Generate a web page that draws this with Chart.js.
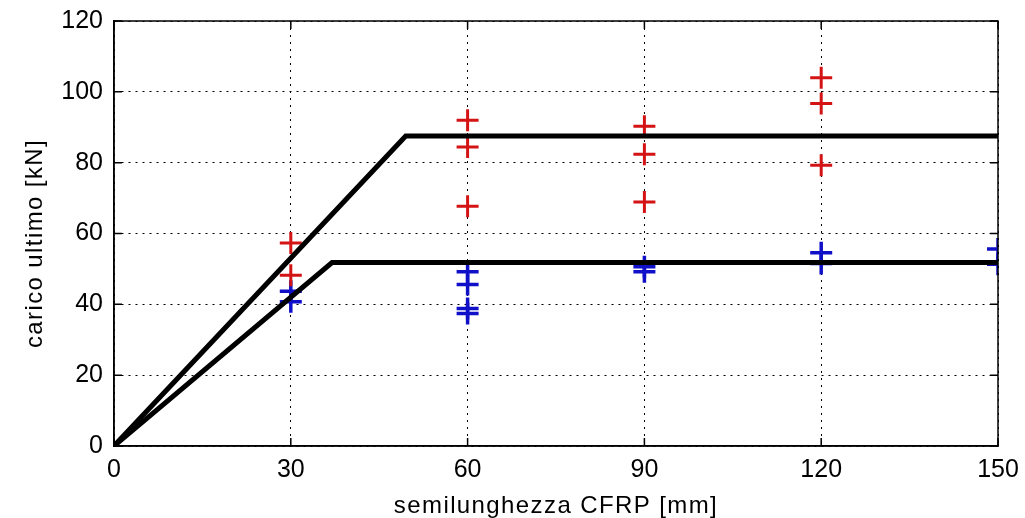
<!DOCTYPE html>
<html lang="it">
<head>
  <meta charset="UTF-8" />
  <title>Carico ultimo - semilunghezza CFRP</title>
  <style>
    html, body { margin: 0; padding: 0; background: #fff; }
    .grafico { width: 1025px; height: 518px; }
  </style>
</head>
<body>
  <div class="grafico"><canvas id="grafico"></canvas></div>

  <script src="https://cdn.jsdelivr.net/npm/chart.js"></script>
  <script>
    const xRosso = [30, 30, 60, 60, 60, 90, 90, 90, 120, 120, 120];
    const yRosso = [57.3, 48.2, 92, 84.4, 67.7, 90.3, 82.4, 68.9, 104, 96.7, 79.3];
    const xBlu = [30, 30, 60, 60, 60, 60, 90, 90, 120, 120, 150, 150];
    const yBlu = [43.7, 40.7, 49.2, 45.6, 38.8, 37.4, 50.6, 49.2, 54.6, 51.5, 55.6, 51.3];

    // modelli teorici (spezzate)
    const xModelloAlto = [0, 49.5, 150];
    const yModelloAlto = [0, 87.5, 87.5];
    const xModelloBasso = [0, 37, 150];
    const yModelloBasso = [0, 51.8, 51.8];

    const tickX = [0, 30, 60, 90, 120, 150];
    const tickY = [0, 20, 40, 60, 80, 100, 120];

    const punti = (xs, ys) => xs.map((x, i) => ({ x, y: ys[i] }));

    Chart.defaults.font.family = "'Liberation Sans', Arial, sans-serif";
    Chart.defaults.color = '#000';

    // riquadro stile MATLAB: bordo chiuso e tacche verso l'interno
    const riquadro = {
      id: 'riquadro',
      beforeDraw(chart) {
        chart.ctx.letterSpacing = '0px';
        Object.values(chart.scales).forEach(s => {
          if (s._titoloOk) return;
          const orig = s.drawTitle.bind(s);
          s.drawTitle = function () {
            const ctx = this.ctx;
            ctx.save();
            ctx.letterSpacing = '1.4px';
            if (this.id === 'y') ctx.translate(0, 10);
            orig();
            ctx.restore();
          };
          s._titoloOk = true;
        });
      },
      afterDraw(chart) {
        const { ctx, chartArea: a, scales: { x, y } } = chart;
        ctx.save();
        ctx.strokeStyle = '#000';
        ctx.lineWidth = 1.5;
        ctx.setLineDash([]);
        ctx.strokeRect(a.left, a.top, a.right - a.left, a.bottom - a.top);
        ctx.beginPath();
        tickX.forEach(v => {
          const px = x.getPixelForValue(v);
          ctx.moveTo(px, a.bottom); ctx.lineTo(px, a.bottom - 8);
          ctx.moveTo(px, a.top); ctx.lineTo(px, a.top + 8);
        });
        tickY.forEach(v => {
          const py = y.getPixelForValue(v);
          ctx.moveTo(a.left, py); ctx.lineTo(a.left + 8, py);
          ctx.moveTo(a.right, py); ctx.lineTo(a.right - 8, py);
        });
        ctx.stroke();
        ctx.restore();
      }
    };

    new Chart(document.getElementById('grafico'), {
      type: 'scatter',
      data: {
        datasets: [
          {
            type: 'line',
            data: punti(xModelloAlto, yModelloAlto),
            borderColor: '#000',
            borderWidth: 5,
            pointRadius: 0,
            fill: false,
            order: 1
          },
          {
            type: 'line',
            data: punti(xModelloBasso, yModelloBasso),
            borderColor: '#000',
            borderWidth: 5,
            pointRadius: 0,
            fill: false,
            order: 1
          },
          {
            data: punti(xRosso, yRosso),
            pointStyle: 'cross',
            pointRadius: 11,
            pointHoverRadius: 11,
            borderColor: '#d41414',
            borderWidth: 3,
            order: 2
          },
          {
            data: punti(xBlu, yBlu),
            pointStyle: 'cross',
            pointRadius: 11,
            pointHoverRadius: 11,
            borderColor: '#1010c8',
            borderWidth: 3.5,
            order: 2
          }
        ]
      },
      options: {
        responsive: true,
        maintainAspectRatio: false,
        animation: false,
        layout: { padding: { top: 21, right: 27, left: 0, bottom: 0 } },
        plugins: {
          legend: { display: false },
          tooltip: { enabled: false }
        },
        scales: {
          x: {
            type: 'linear',
            min: 0,
            max: 150,
            afterBuildTicks: s => { s.ticks = tickX.map(v => ({ value: v })); },
            afterFit: s => { s.height = 72; s.paddingLeft = 0; s.paddingRight = 0; },
            grid: { color: '#000', lineWidth: 1, drawTicks: false },
            border: { color: '#000', width: 1.5, dash: [2, 5] },
            ticks: { color: '#000', font: { size: 25 }, padding: 9, maxRotation: 0 },
            title: {
              display: true,
              text: 'semilunghezza CFRP [mm]',
              color: '#000',
              font: { size: 24, lineHeight: 1 },
              padding: { top: 0, bottom: 0 }
            }
          },
          y: {
            type: 'linear',
            min: 0,
            max: 120,
            afterBuildTicks: s => { s.ticks = tickY.map(v => ({ value: v })); },
            afterFit: s => { s.width = 114; s.paddingTop = 0; s.paddingBottom = 0; },
            grid: { color: '#000', lineWidth: 1, drawTicks: false },
            border: { color: '#000', width: 1.5, dash: [2, 5] },
            ticks: { color: '#000', font: { size: 25 }, padding: 11 },
            title: {
              display: true,
              text: 'carico ultimo [kN]',
              color: '#000',
              font: { size: 24, lineHeight: 1 },
              padding: { top: 23, bottom: 0 }
            }
          }
        }
      },
      plugins: [riquadro]
    });
  </script>
</body>
</html>
